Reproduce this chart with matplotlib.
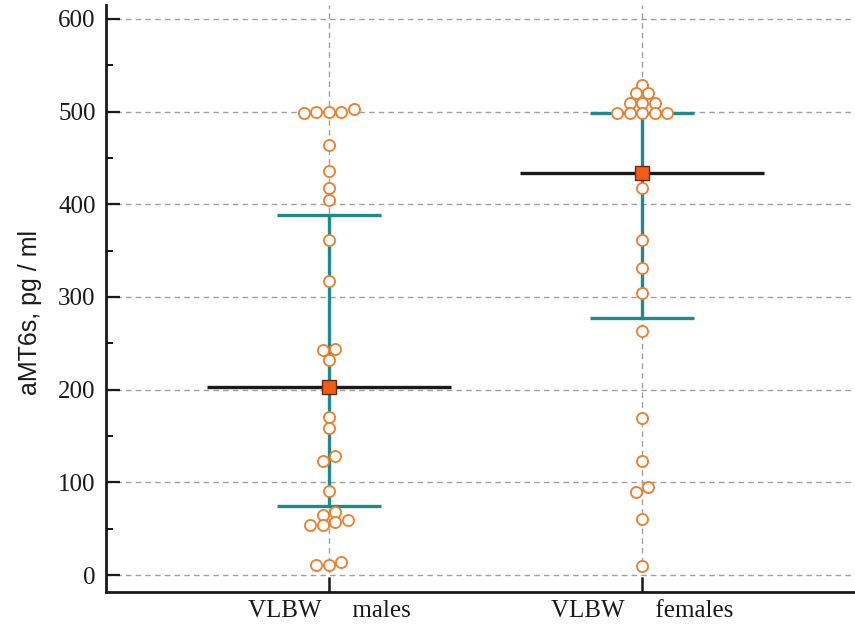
import numpy as np
import matplotlib
matplotlib.use("Agg")
import matplotlib.pyplot as plt
from matplotlib.ticker import MultipleLocator

categories = ["VLBW     males", "VLBW     females"]

males = [499, 500, 500, 500, 503, 464, 436, 418, 405, 361, 317, 243, 244, 232,
         170, 159, 123, 128, 91, 68, 65, 54, 54, 57, 59, 11, 11, 14]
females = [529, 520, 520, 509, 509, 509, 499, 499, 499, 499, 499, 418, 361,
           331, 304, 263, 169, 123, 95, 90, 60, 10]

centers = [203, 434]      # black line + square marker
bar_low = [75, 277]       # teal bar lower end
bar_high = [388, 499]     # teal bar upper end

groups = [males, females]

W, H, DPI = 855, 626, 100
fig = plt.figure(figsize=(W / DPI, H / DPI), dpi=DPI)
ax = fig.add_axes([106 / W, 1 - 592 / H, 1 - 106 / W, (592 - 5) / H])

ylo, yhi = -18.3, 615
xlo, xhi = 0.288, 2.68
ax.set_xlim(xlo, xhi)
ax.set_ylim(ylo, yhi)

ax_w_px = W - 106
ax_h_px = 592 - 5
px_per_x = ax_w_px / (xhi - xlo)
px_per_y = ax_h_px / (yhi - ylo)

step_px = 12.5     # horizontal spacing of neighbouring dots
join_px = 7.5      # values closer than this (vertically) share a row


def dot_offsets(values):
    values = np.asarray(values, dtype=float)
    order = np.argsort(values, kind="stable")
    offs = np.zeros(len(values))
    rows = []
    cur = []
    start = None
    for i in order:
        if start is None or (values[i] - start) * px_per_y > join_px:
            if cur:
                rows.append(cur)
            cur = [i]
            start = values[i]
        else:
            cur.append(i)
    if cur:
        rows.append(cur)
    for row in rows:
        n = len(row)
        for j, i in enumerate(row):
            offs[i] = (j - (n - 1) / 2) * step_px
    return offs / px_per_x


grid_kw = dict(color="#a0a0a0", lw=1.0, ls=(0, (4, 3)), zorder=0)
for yv in range(0, 601, 100):
    ax.axhline(yv, **grid_kw)
for k in range(len(categories)):
    ax.axvline(k + 1, **grid_kw)

teal = "#1f8a8c"
orange = "#ee7d2b"
for k, vals in enumerate(groups):
    xc = k + 1
    ax.plot([xc - 0.39, xc + 0.39], [centers[k]] * 2, color="#1a1a1a", lw=2.4, zorder=2,
            solid_capstyle="butt")
    ax.plot([xc, xc], [bar_low[k], bar_high[k]], color=teal, lw=2.4, zorder=2)
    for v in (bar_low[k], bar_high[k]):
        ax.plot([xc - 0.165, xc + 0.165], [v, v], color=teal, lw=2.4, zorder=2,
                solid_capstyle="butt")
    offs = dot_offsets(vals)
    ax.scatter(xc + offs, vals, s=64, facecolors="white", edgecolors=orange,
               linewidths=1.3, zorder=3)
    ax.plot([xc], [centers[k]], marker="s", ms=10, mfc="#f25c16", mec="#6a2a10",
            mew=1.0, zorder=4)

for side in ("top", "right"):
    ax.spines[side].set_visible(False)
for side in ("left", "bottom"):
    ax.spines[side].set_linewidth(2.0)
    ax.spines[side].set_color("#1a1a1a")

ax.yaxis.set_major_locator(MultipleLocator(100))
ax.yaxis.set_minor_locator(MultipleLocator(50))
ax.tick_params(axis="y", which="major", direction="in", length=10, width=1.6,
               pad=7.5, labelsize=18, colors="#1a1a1a")
ax.tick_params(axis="y", which="minor", direction="in", length=5, width=1.3)
ax.set_xticks([1, 2])
ax.set_xticklabels(categories)
ax.tick_params(axis="x", which="major", direction="in", length=11, width=1.8,
               pad=6, labelsize=18, colors="#1a1a1a")
for lab in ax.get_xticklabels() + ax.get_yticklabels():
    lab.set_fontfamily("Liberation Serif")

ax.set_ylabel("aMT6s, pg / ml", fontsize=18, fontfamily="Liberation Sans",
              color="#1a1a1a")
ax.yaxis.set_label_coords(-0.086, 0.477)

fig.savefig("out.png", dpi=DPI)
